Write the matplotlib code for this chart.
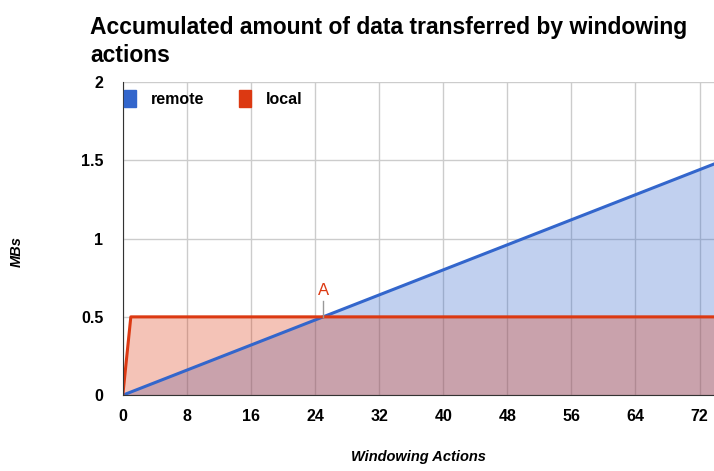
import matplotlib.pyplot as plt
from matplotlib.patches import Patch

# Datos
acciones = [0, 1, 25, 74]
remoto = [0.0, 0.02, 0.5, 1.48]
local = [0.0, 0.5, 0.5, 0.5]
ticks_x = [0, 8, 16, 24, 32, 40, 48, 56, 64, 72]
ticks_y = [0, 0.5, 1, 1.5, 2]
etiquetas_y = ['0', '0.5', '1', '1.5', '2']

azul = '#3366cc'
rojo = '#dc3912'

plt.rcParams['font.family'] = ['Liberation Sans', 'DejaVu Sans']

fig = plt.figure(figsize=(7.14, 4.71), dpi=100)
ax = fig.add_axes([0.172, 0.161, 0.828, 0.665])

ax.fill_between(acciones, remoto, color=azul, alpha=0.3, lw=0)
ax.fill_between(acciones, local, color=rojo, alpha=0.3, lw=0)
ax.plot(acciones, remoto, color=azul, lw=2.2)
ax.plot(acciones, local, color=rojo, lw=2.2)

# anotación "A"
ax.plot([25, 25], [0.5, 0.6], color='#999999', lw=1)
ax.text(25, 0.62, 'A', color=rojo, fontsize=12, ha='center', va='bottom')

ax.set_xlim(0, 73.8)
ax.set_ylim(0, 2)
ax.set_xticks(ticks_x)
ax.set_yticks(ticks_y)
ax.set_yticklabels(etiquetas_y)
ax.grid(True, color='#cccccc', lw=1)
ax.set_axisbelow(True)
ax.tick_params(length=0, labelsize=11.5, pad=10)
ax.tick_params(axis='y', pad=14)
for lab in ax.get_xticklabels() + ax.get_yticklabels():
    lab.set_fontweight('bold')
for s in ['top', 'right']:
    ax.spines[s].set_visible(False)
ax.spines['left'].set_color('#333333')
ax.spines['bottom'].set_color('#333333')

ax.set_xlabel('Windowing Actions', fontsize=10.5, fontweight='bold', fontstyle='italic', labelpad=19)
ax.set_ylabel('MBs', fontsize=10.5, fontweight='bold', fontstyle='italic', labelpad=54)
ax.yaxis.set_label_coords(-0.168, 0.46)

manejadores = [Patch(color=azul), Patch(color=rojo)]
leg = ax.legend(manejadores, ['remote', 'local'], loc='upper left', ncol=2, frameon=False,
                bbox_to_anchor=(-0.022, 1.02), handlelength=0.75, handleheight=1.3,
                columnspacing=2.2, handletextpad=0.9, prop={'weight': 'bold', 'size': 11.5})

fig.text(0.126, 0.857, 'Accumulated amount of data transferred by windowing\nactions',
         fontsize=16.5, fontweight='bold', ha='left', va='bottom', linespacing=1.3)

fig.savefig('out.png', dpi=100)
